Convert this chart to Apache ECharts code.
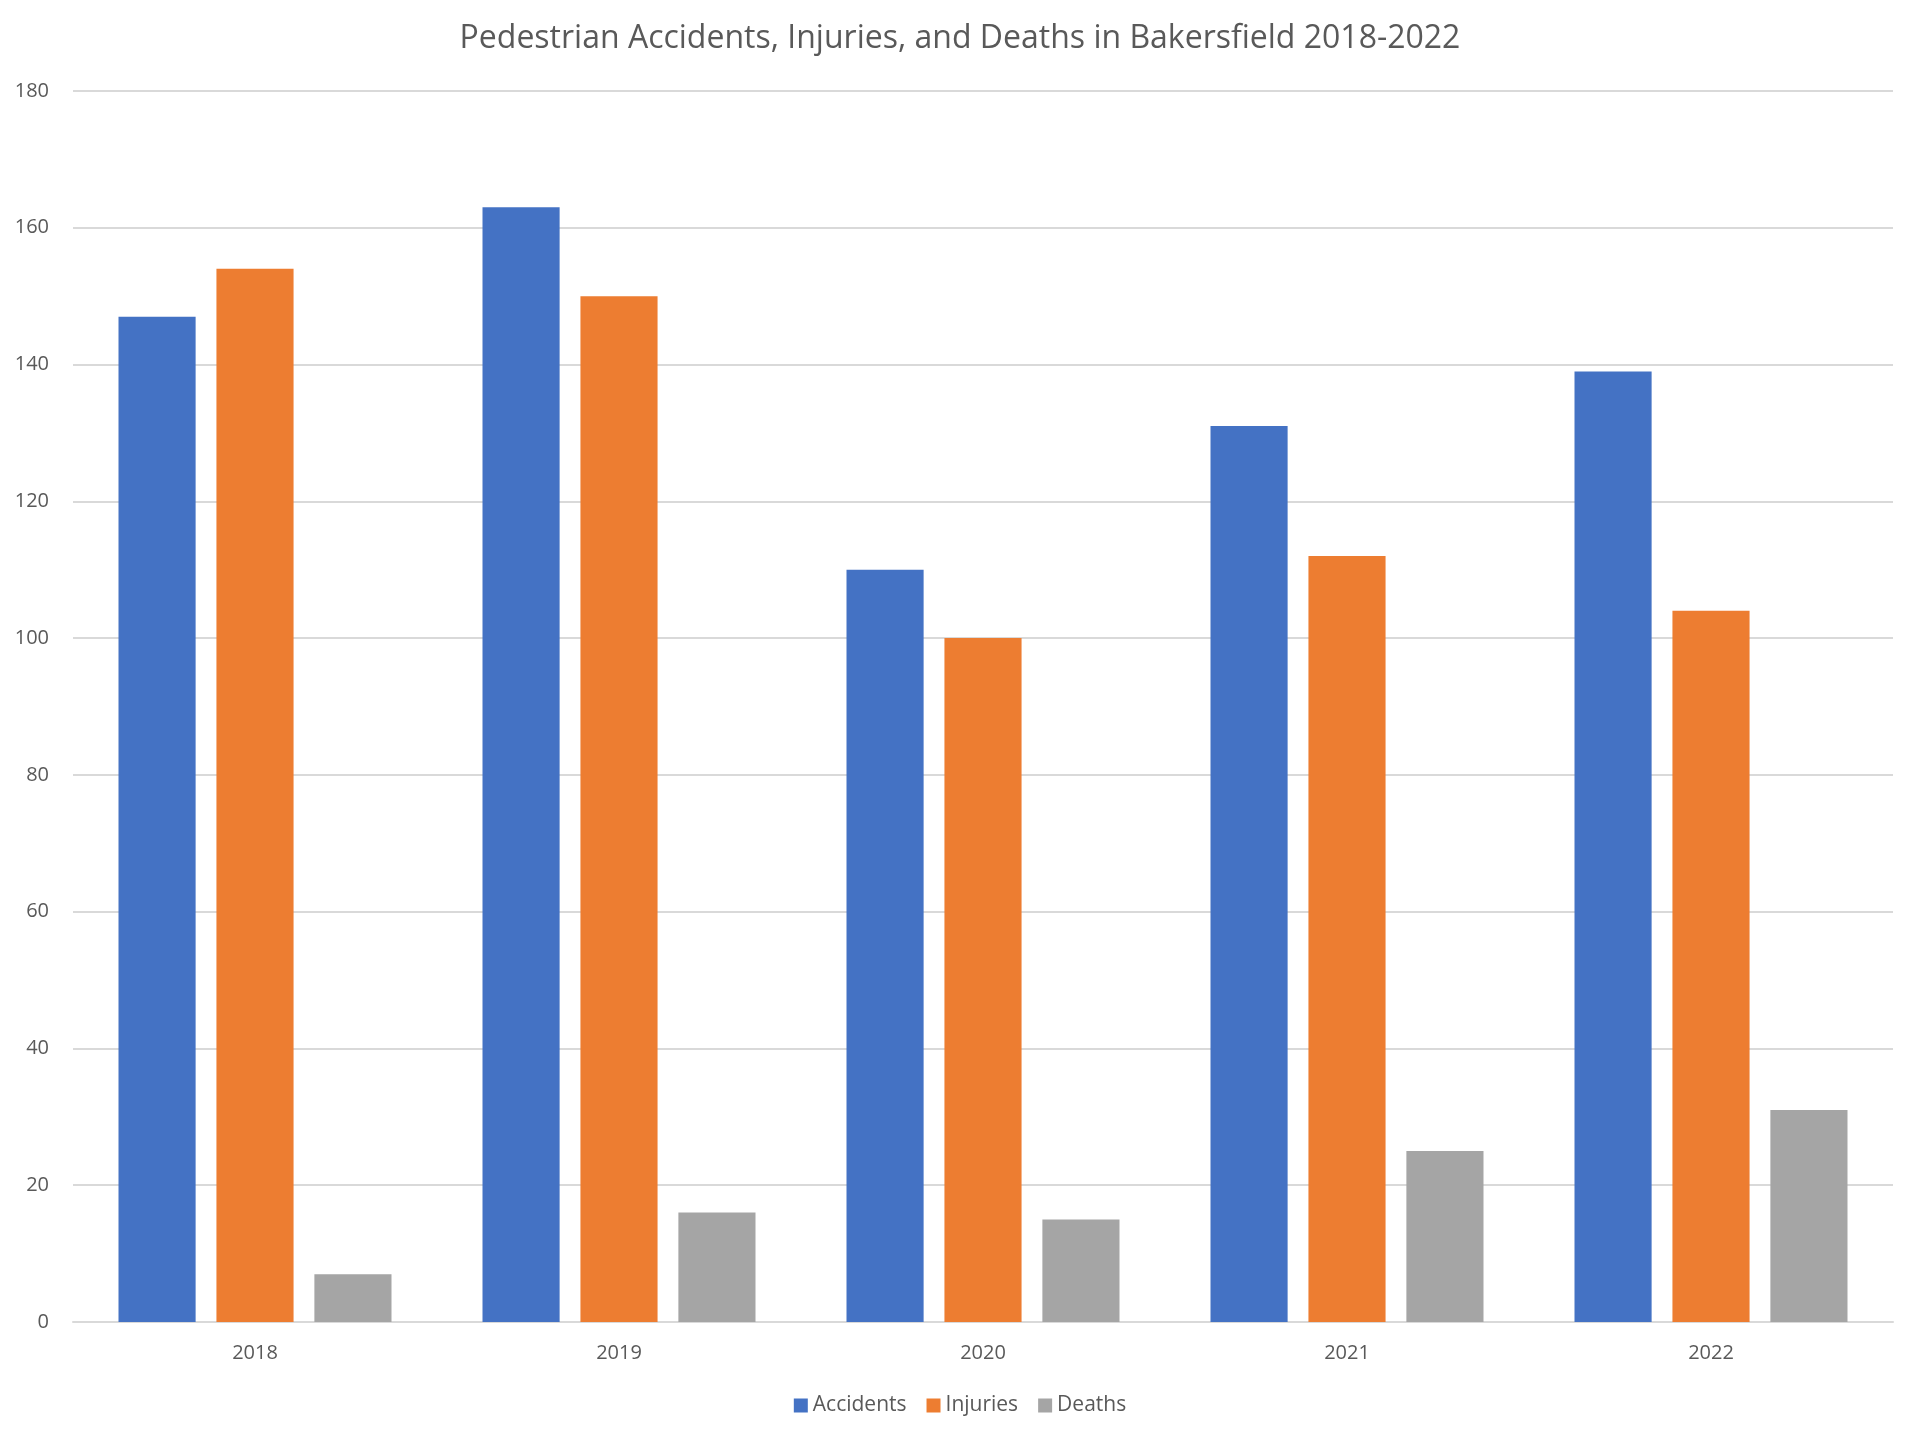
<!DOCTYPE html>
<html>
<head>
  <meta charset="utf-8">
  <script src="https://cdn.jsdelivr.net/npm/echarts@6/dist/echarts.min.js"></script>
  <style>
    html, body { margin: 0; padding: 0; background: #fff; }
  </style>
</head>
<body>
  <div id="chart" style="width: 1920px; height: 1439px;"></div>
  <script>
    // data
    var years = ['2018', '2019', '2020', '2021', '2022'];
    var accidents = [147, 163, 110, 131, 139];
    var injuries = [154, 150, 100, 112, 104];
    var deaths = [7, 16, 15, 25, 31];

    var chart = echarts.init(document.getElementById('chart'));
    var font = '"Open Sans", "Noto Sans", sans-serif';

    var option = {
      color: ['#4472C4', '#ED7D31', '#A5A5A5'],
      textStyle: { fontFamily: font },
      title: {
        text: 'Pedestrian Accidents, Injuries, and Deaths in Bakersfield 2018-2022',
        left: 'center',
        top: 18,
        textStyle: { fontSize: 32, fontWeight: 'normal', color: '#595959', fontFamily: font }
      },
      legend: {
        data: ['Accidents', 'Injuries', 'Deaths'],
        bottom: 18,
        left: 'center',
        icon: 'rect',
        itemWidth: 14,
        itemHeight: 14,
        itemGap: 20,
        textStyle: { fontSize: 21, color: '#595959', fontFamily: font }
      },
      grid: { left: 73, right: 27, top: 91, bottom: 117, containLabel: false },
      xAxis: {
        type: 'category',
        data: years,
        axisLine: { lineStyle: { color: '#d9d9d9', width: 2 } },
        axisTick: { show: false },
        axisLabel: { fontSize: 20, color: '#595959', margin: 21 }
      },
      yAxis: {
        type: 'value',
        min: 0,
        max: 180,
        interval: 20,
        axisLine: { show: false },
        axisTick: { show: false },
        splitLine: { lineStyle: { color: '#d9d9d9', width: 2 } },
        axisLabel: { fontSize: 20, color: '#595959', margin: 24 }
      },
      series: [
        { name: 'Accidents', type: 'bar', data: accidents, barGap: '27%', barCategoryGap: '25%' },
        { name: 'Injuries', type: 'bar', data: injuries, barGap: '27%', barCategoryGap: '25%' },
        { name: 'Deaths', type: 'bar', data: deaths, barGap: '27%', barCategoryGap: '25%' }
      ]
    };

    chart.setOption(option);
  </script>
</body>
</html>
